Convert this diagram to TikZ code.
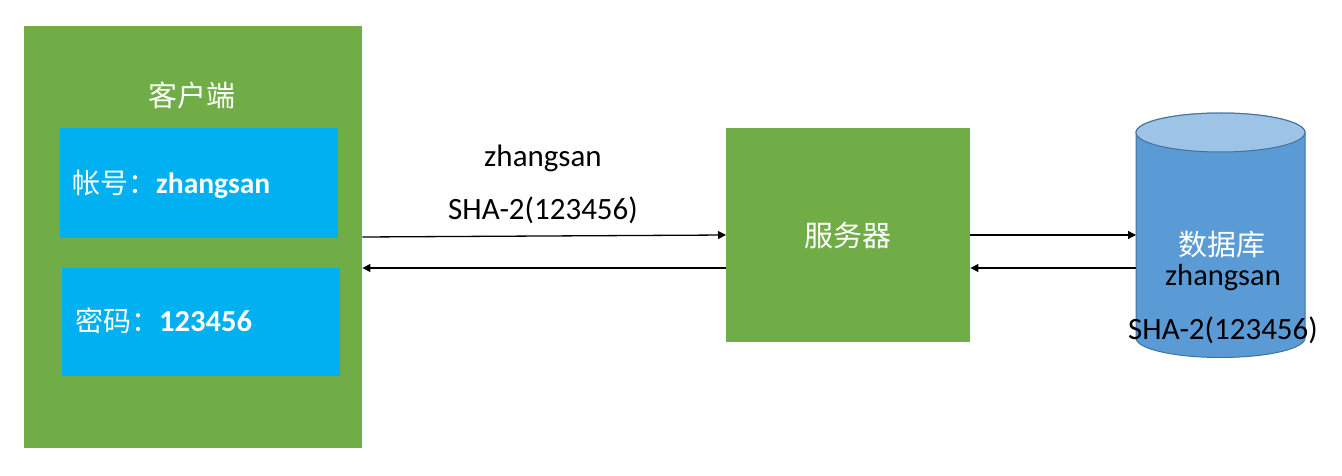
\documentclass[tikz,border=0pt]{standalone}
\usepackage{fontspec}
\setmainfont{Carlito}
\newfontfamily\cjk{Noto Sans CJK SC}
\usetikzlibrary{arrows.meta}
\definecolor{cgreen}{HTML}{70AD47}
\definecolor{cblue}{HTML}{00B0F0}
\definecolor{dbbody}{HTML}{5B9BD5}
\definecolor{dbtop}{HTML}{9DC3E6}
\definecolor{dbline}{HTML}{41719C}
\tikzset{
  box/.style={fill=#1, draw=none, inner sep=0pt, anchor=north west},
  conn/.style={line width=1.3pt, -{Triangle[length=8pt,width=8pt]}},
  wlab/.style={text=white, inner sep=0pt},
  blab/.style={text=black, inner sep=0pt, font=\fontsize{31}{36}\selectfont},
}
\begin{document}
\begin{tikzpicture}[x=1pt,y=-1pt]
\useasboundingbox (0,0) rectangle (1342,476);
% client
\node[box=cgreen, minimum width=338pt, minimum height=422pt] (cli) at (24,26) {};
\node[wlab, font=\cjk\fontsize{29}{34}\selectfont] (clititle) at (192,95) {客户端};
\node[box=cblue, minimum width=278pt, minimum height=110pt] (acct) at (60,128) {};
\node[wlab, anchor=west, font=\fontsize{28}{34}\selectfont] (acctlab) at (72,184) {{\cjk 帐号：}{\fontsize{29.5}{34}\selectfont\textbf{zhangsan}}};
\node[box=cblue, minimum width=278pt, minimum height=108pt] (pwd) at (62,268) {};
\node[wlab, anchor=west, font=\fontsize{28}{34}\selectfont] (pwdlab) at (75,321) {{\cjk 密码：}{\fontsize{30.5}{34}\selectfont\textbf{123456}}};
% server
\node[box=cgreen, minimum width=244pt, minimum height=214pt] (srv) at (726,128) {};
\node[wlab, font=\cjk\fontsize{29}{34}\selectfont] (srvlab) at (848,235) {服务器};
% database cylinder
\path[fill=dbbody, draw=dbline, line width=1pt]
  (1136,132.5) -- (1136,338) arc[start angle=180, end angle=360, x radius=84.5pt, y radius=19.5pt]
  -- (1305,132.5) arc[start angle=0, end angle=180, x radius=84.5pt, y radius=19.5pt] -- cycle;
\draw[fill=dbtop, draw=dbline, line width=1pt] (1220.5,132.5) ellipse[x radius=84.5pt, y radius=19.5pt];
\node[inner sep=0pt, minimum width=169pt, minimum height=244pt, anchor=north west] (db) at (1136,113) {};
\node[wlab, font=\cjk\fontsize{29}{34}\selectfont] (dblab) at (1222,245) {数据库};
\node[blab, font=\fontsize{30.5}{36}\selectfont] (dbuser) at (1223,278) {zhangsan};
\node[blab] (dbhash) at (1223,330) {SHA-2(123456)};
% labels
\node[blab] (muser) at (543,158) {zhangsan};
\node[blab] (mhash) at (543,210) {SHA-2(123456)};
% connectors
\coordinate (y1) at (0,237);
\coordinate (y2) at (0,235);
\coordinate (y3) at (0,268);
\draw[conn] (cli.east |- y1) -- (srv.west |- y2);
\draw[conn] (srv.west |- y3) -- (cli.east |- y3);
\draw[conn] (srv.east |- y2) -- (db.west |- y2);
\draw[conn] (db.west |- y3) -- (srv.east |- y3);
\end{tikzpicture}
\end{document}
